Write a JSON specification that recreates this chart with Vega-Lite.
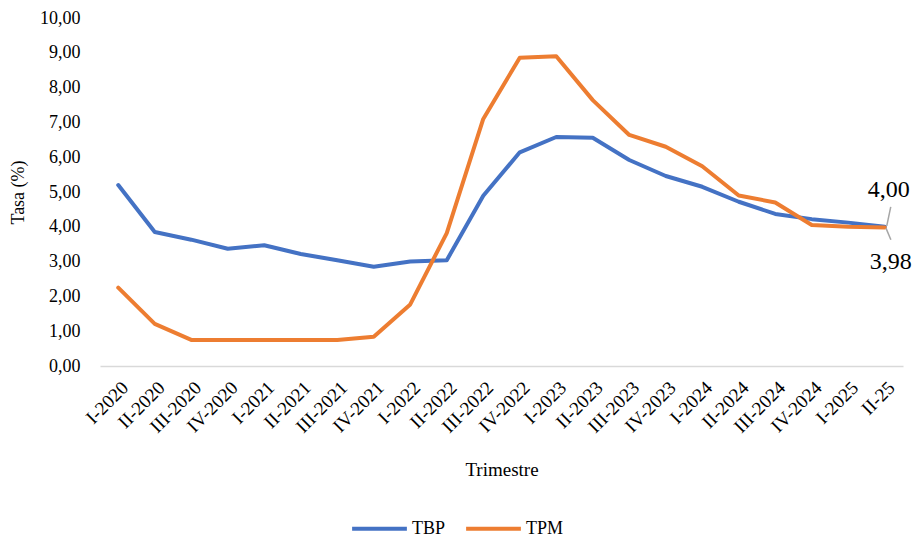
{
  "$schema": "https://vega.github.io/schema/vega-lite/v6.json",
  "width": 803,
  "height": 348,
  "autosize": {"type": "none"},
  "padding": {"left": 100, "top": 18, "right": 11, "bottom": 172},
  "background": "white",
  "config": {
    "view": {"stroke": null},
    "font": "Liberation Serif",
    "text": {"font": "Liberation Serif"},
    "legend": {"labelFont": "Liberation Serif"},
    "axis": {"labelFont": "Liberation Serif", "titleFont": "Liberation Serif"},
    "locale": {"number": {"decimal": ",", "thousands": ".", "grouping": [3], "currency": ["", ""]}}
  },
  "data": {
    "values": [
      {"q": "I-2020", "series": "TBP", "value": 5.20},
      {"q": "II-2020", "series": "TBP", "value": 3.85},
      {"q": "III-2020", "series": "TBP", "value": 3.63},
      {"q": "IV-2020", "series": "TBP", "value": 3.37},
      {"q": "I-2021", "series": "TBP", "value": 3.47},
      {"q": "II-2021", "series": "TBP", "value": 3.22},
      {"q": "III-2021", "series": "TBP", "value": 3.04},
      {"q": "IV-2021", "series": "TBP", "value": 2.85},
      {"q": "I-2022", "series": "TBP", "value": 3.00},
      {"q": "II-2022", "series": "TBP", "value": 3.04},
      {"q": "III-2022", "series": "TBP", "value": 4.89},
      {"q": "IV-2022", "series": "TBP", "value": 6.14},
      {"q": "I-2023", "series": "TBP", "value": 6.58},
      {"q": "II-2023", "series": "TBP", "value": 6.56},
      {"q": "III-2023", "series": "TBP", "value": 5.92},
      {"q": "IV-2023", "series": "TBP", "value": 5.46},
      {"q": "I-2024", "series": "TBP", "value": 5.15},
      {"q": "II-2024", "series": "TBP", "value": 4.72},
      {"q": "III-2024", "series": "TBP", "value": 4.37},
      {"q": "IV-2024", "series": "TBP", "value": 4.22},
      {"q": "I-2025", "series": "TBP", "value": 4.12},
      {"q": "II-25", "series": "TBP", "value": 4.00},
      {"q": "I-2020", "series": "TPM", "value": 2.25},
      {"q": "II-2020", "series": "TPM", "value": 1.21},
      {"q": "III-2020", "series": "TPM", "value": 0.75},
      {"q": "IV-2020", "series": "TPM", "value": 0.75},
      {"q": "I-2021", "series": "TPM", "value": 0.75},
      {"q": "II-2021", "series": "TPM", "value": 0.75},
      {"q": "III-2021", "series": "TPM", "value": 0.75},
      {"q": "IV-2021", "series": "TPM", "value": 0.84},
      {"q": "I-2022", "series": "TPM", "value": 1.77},
      {"q": "II-2022", "series": "TPM", "value": 3.82},
      {"q": "III-2022", "series": "TPM", "value": 7.10},
      {"q": "IV-2022", "series": "TPM", "value": 8.86},
      {"q": "I-2023", "series": "TPM", "value": 8.90},
      {"q": "II-2023", "series": "TPM", "value": 7.64},
      {"q": "III-2023", "series": "TPM", "value": 6.64},
      {"q": "IV-2023", "series": "TPM", "value": 6.30},
      {"q": "I-2024", "series": "TPM", "value": 5.74},
      {"q": "II-2024", "series": "TPM", "value": 4.90},
      {"q": "III-2024", "series": "TPM", "value": 4.70},
      {"q": "IV-2024", "series": "TPM", "value": 4.05},
      {"q": "I-2025", "series": "TPM", "value": 4.00},
      {"q": "II-25", "series": "TPM", "value": 3.98}
    ]
  },
  "encoding": {
    "x": {
      "field": "q", "type": "ordinal", "sort": null,
      "scale": {"padding": 0.5},
      "axis": {
        "title": "Trimestre", "titleFontSize": 19, "titleFontWeight": "normal", "titleColor": "#000", "titlePadding": 24,
        "labelAngle": -45, "labelFontSize": 19, "labelColor": "#000", "labelPadding": 12,
        "ticks": false, "grid": false, "domainColor": "#d9d9d9", "domainWidth": 1.5
      }
    },
    "y": {
      "field": "value", "type": "quantitative",
      "scale": {"domain": [0, 10]},
      "axis": {
        "title": "Tasa (%)", "titleFontSize": 18, "titleFontWeight": "normal", "titleColor": "#000", "titlePadding": 12,
        "values": [0, 1, 2, 3, 4, 5, 6, 7, 8, 9, 10], "format": ".2f",
        "labelFontSize": 18, "labelColor": "#000", "labelPadding": 20,
        "ticks": false, "grid": false, "domain": false
      }
    }
  },
  "layer": [
    {
      "mark": {"type": "line", "strokeWidth": 4, "strokeCap": "round", "strokeJoin": "round"},
      "encoding": {
        "color": {
          "field": "series", "type": "nominal",
          "scale": {"domain": ["TBP", "TPM"], "range": ["#4472C4", "#ED7D31"]},
          "legend": {
            "title": null, "orient": "none", "direction": "horizontal",
            "legendX": 250, "legendY": 481, "padding": 0,
            "symbolType": "stroke", "symbolSize": 3000, "symbolStrokeWidth": 4,
            "labelFont": "Liberation Serif",
            "labelFontSize": 18, "labelColor": "#000", "labelOffset": 3, "columnPadding": 12
          }
        }
      }
    },
    {
      "transform": [{"filter": "datum.q === 'II-25' && datum.series === 'TBP'"}],
      "mark": {"type": "point", "shape": "M0.1,-0.05L0.3,-1", "size": 1600, "filled": false, "stroke": "#a6a6a6", "strokeWidth": 1.5, "opacity": 1}
    },
    {
      "transform": [{"filter": "datum.q === 'II-25' && datum.series === 'TPM'"}],
      "mark": {"type": "point", "shape": "M0.1,0.05L0.5,1", "size": 600, "filled": false, "stroke": "#a6a6a6", "strokeWidth": 1.5, "opacity": 1}
    },
    {
      "transform": [{"filter": "datum.q === 'II-25' && datum.series === 'TBP'"}],
      "mark": {"type": "text", "font": "Liberation Serif", "fontSize": 24, "dx": 4, "dy": -37, "color": "#000", "baseline": "middle"},
      "encoding": {"text": {"field": "value", "type": "quantitative", "format": ".2f"}}
    },
    {
      "transform": [{"filter": "datum.q === 'II-25' && datum.series === 'TPM'"}],
      "mark": {"type": "text", "font": "Liberation Serif", "fontSize": 24, "dx": 6, "dy": 35, "color": "#000", "baseline": "middle"},
      "encoding": {"text": {"field": "value", "type": "quantitative", "format": ".2f"}}
    }
  ]
}
